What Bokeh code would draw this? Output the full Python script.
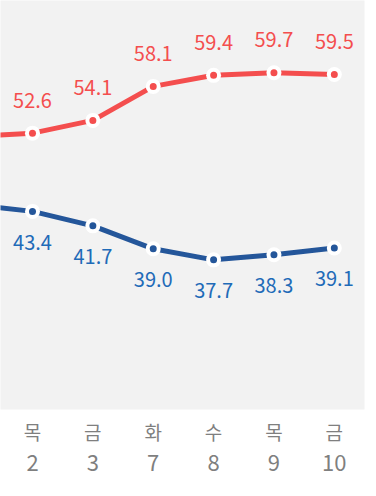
from bokeh.plotting import figure
from bokeh.models import Range1d, LinearAxis, FixedTicker
from bokeh.core.properties import value
from bokeh.embed import file_html
from bokeh.resources import INLINE

# data
positions = [-1, 0, 1, 2, 3, 4, 5]
days = ["수", "목", "금", "화", "수", "목", "금"]
dates = ["1", "2", "3", "7", "8", "9", "10"]
approve = [52.2, 52.6, 54.1, 58.1, 59.4, 59.7, 59.5]
disapprove = [44.2, 43.4, 41.7, 39.0, 37.7, 38.3, 39.1]

RED = "#f44e4e"
BLUE_LINE = "#24569a"
BLUE_TEXT = "#1f6bb8"
GRAY_TXT = "#7f7f7f"
FONT = "Noto Sans CJK KR"

p = figure(width=376, height=496, output_backend="svg", toolbar_location=None,
           x_range=Range1d(-0.53, 5.5), y_range=Range1d(20.1, 68.2),
           x_axis_location=None, y_axis_location=None,
           min_border_left=0, min_border_right=12, min_border_top=0, min_border_bottom=87)
p.background_fill_color = "#f2f2f2"
p.border_fill_color = "white"
p.outline_line_color = None
p.xgrid.visible = False
p.ygrid.visible = False

p.line(positions, approve, line_color=RED, line_width=5)
p.line(positions, disapprove, line_color=BLUE_LINE, line_width=5)

vis = positions[1:]
p.scatter(vis, approve[1:], size=15, fill_color="white", line_color=None)
p.scatter(vis, approve[1:], size=7, fill_color=RED, line_color=None)
p.scatter(vis, disapprove[1:], size=15, fill_color="white", line_color=None)
p.scatter(vis, disapprove[1:], size=7, fill_color=BLUE_LINE, line_color=None)

p.text(vis, approve[1:], text=[f"{v:.1f}" for v in approve[1:]], y_offset=-33,
       text_align="center", text_baseline="middle", text_color=RED,
       text_font=value(FONT), text_font_size="20px")
p.text(vis, disapprove[1:], text=[f"{v:.1f}" for v in disapprove[1:]], y_offset=31,
       text_align="center", text_baseline="middle", text_color=BLUE_TEXT,
       text_font=value(FONT), text_font_size="20px")

ticks = positions[1:]

def make_axis(labels, standoff, size):
    ax = LinearAxis(ticker=FixedTicker(ticks=ticks),
                    major_label_overrides={t: l for t, l in zip(ticks, labels)})
    ax.axis_line_color = None
    ax.major_tick_line_color = None
    ax.minor_tick_line_color = None
    ax.major_tick_out = 0
    ax.major_tick_in = 0
    ax.major_label_standoff = standoff
    ax.major_label_text_color = GRAY_TXT
    ax.major_label_text_font = FONT
    ax.major_label_text_font_size = size
    return ax

p.add_layout(make_axis(days[1:], 8, "19px"), "below")
p.add_layout(make_axis(dates[1:], 7, "22px"), "below")

open("out.html", "w").write(file_html(p, INLINE))
